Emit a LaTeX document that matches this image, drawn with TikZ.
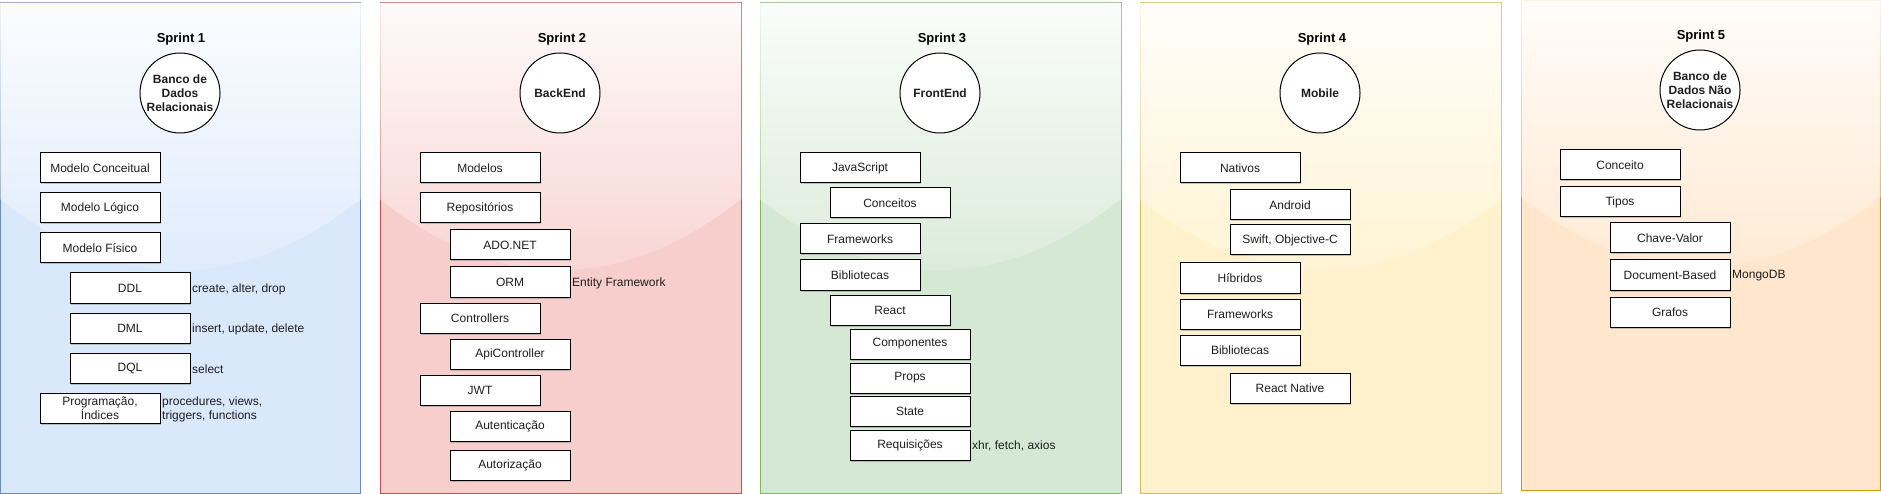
\documentclass[tikz,border=0pt]{standalone}
\usepackage{fontspec}
\setmainfont{Liberation Sans}
\usetikzlibrary{fadings,shadows}
\definecolor{fA}{HTML}{DAE8FC}\definecolor{sA}{HTML}{6C8EBF}
\definecolor{fB}{HTML}{F8CECC}\definecolor{sB}{HTML}{B85450}
\definecolor{fC}{HTML}{D5E8D4}\definecolor{sC}{HTML}{82B366}
\definecolor{fD}{HTML}{FFF2CC}\definecolor{sD}{HTML}{D6B656}
\definecolor{fE}{HTML}{FFE6CC}\definecolor{sE}{HTML}{D79B00}
\definecolor{txt}{HTML}{1E1E1E}
\tikzfading[name=glassfade, top color=transparent!10, bottom color=transparent!90]
\newcommand\drawpanel[6]{%
  \fill[#5] (#1,#2) rectangle (#3,#4);
  \draw[#6, line width=1pt] (#1,#2) rectangle (#3,#4);
  \fill[white, path fading=glassfade, fit fading=true]
    (#1-0.5,#2-0.5) -- (#1-0.5,#2+196)
    .. controls ({#1+2/3*((#3-#1)/2)},{#2+196+94.7}) and ({#3-2/3*((#3-#1)/2)},{#2+196+94.7}) ..
    (#3+0.5,#2+196) -- (#3+0.5,#2-0.5) -- cycle;
}
\tikzset{
  bx/.style={draw=black, fill=white, line width=1pt, minimum width=120pt, minimum height=30pt,
    inner sep=0pt, text=txt, font=\fontsize{12}{14}\selectfont,
    drop shadow={shadow xshift=1pt, shadow yshift=-1.5pt, fill=gray, opacity=0.45}},
  ttl/.style={font=\bfseries\fontsize{13}{15}\selectfont, text=black, inner sep=0pt},
  circ/.style={circle, draw=black, fill=white, line width=1pt, minimum size=80pt, inner sep=0pt,
    align=center, font=\bfseries\fontsize{12}{14}\selectfont, text=txt},
  lbl/.style={anchor=west, inner sep=0pt, align=left, text=txt, font=\fontsize{12}{14}\selectfont}
}
\begin{document}
\begin{tikzpicture}[x=1pt,y=-1pt]
\useasboundingbox (0,0) rectangle (1881,494);
\fill[white] (0,0) rectangle (1881,494);
% panels
\drawpanel{0.5}{3}{360.5}{493}{fA}{sA}
\drawpanel{380}{3}{741}{493}{fB}{sB}
\drawpanel{760}{3}{1121}{493}{fC}{sC}
\drawpanel{1140}{3}{1501}{493}{fD}{sD}
\drawpanel{1521}{0.5}{1880.5}{490.5}{fE}{sE}

% ---------- Sprint 1
\node[ttl] (t1) at (181,39) {Sprint 1};
\node[circ] (c1) at (180,93) {Banco de\\Dados\\Relacionais};
\node[bx] (a1) at (100,168) {Modelo Conceitual};
\node[bx] (a2) at (100,208) {Modelo Lógico};
\node[bx] (a3) at (100,248) {Modelo Físico};
\node[bx] (a4) at (130,288) {DDL};
\node[bx] (a5) at (130,328) {DML};
\node[bx] (a6) at (130,368) {DQL};
\node[bx, align=center] (a7) at (100,408) {Programação,\\Índices};
\node[lbl] (l1) at (192,289) {create, alter, drop};
\node[lbl] (l2) at (192,329) {insert, update, delete};
\node[lbl] (l3) at (192,369) {select};
\node[lbl] (l4) at (162,409) {procedures, views,\\triggers, functions};

% ---------- Sprint 2
\node[ttl] (t2) at (562,39) {Sprint 2};
\node[circ] (c2) at (560,93) {BackEnd};
\node[bx] (b1) at (480,168) {Modelos};
\node[bx] (b2) at (480,208) {Repositórios};
\node[bx] (b3) at (510,245) {ADO.NET};
\node[bx] (b4) at (510,282) {ORM};
\node[bx] (b5) at (480,318) {Controllers};
\node[bx] (b6) at (510,354) {ApiController};
\node[bx] (b7) at (480,390) {JWT};
\node[bx] (b8) at (510,426) {Autenticação};
\node[bx] (b9) at (510,465) {Autorização};
\node[lbl] (l5) at (572,283) {Entity Framework};

% ---------- Sprint 3
\node[ttl] (t3) at (942,39) {Sprint 3};
\node[circ] (c3) at (940,93) {FrontEnd};
\node[bx] (d1) at (860,168) {JavaScript};
\node[bx] (d2) at (890,203) {Conceitos};
\node[bx] (d3) at (860,239) {Frameworks};
\node[bx] (d4) at (860,275) {Bibliotecas};
\node[bx] (d5) at (890,310) {React};
\node[bx] (d6) at (910,344) {Componentes};
\node[bx] (d7) at (910,378) {Props};
\node[bx] (d8) at (910,411) {State};
\node[bx] (d9) at (910,445) {Requisições};
\node[lbl] (l6) at (972,446) {xhr, fetch, axios};

% ---------- Sprint 4
\node[ttl] (t4) at (1322,39) {Sprint 4};
\node[circ] (c4) at (1320,93) {Mobile};
\node[bx] (e1) at (1240,168) {Nativos};
\node[bx] (e2) at (1290,205) {Android};
\node[bx] (e3) at (1290,240) {Swift, Objective-C};
\node[bx] (e4) at (1240,278) {Híbridos};
\node[bx] (e5) at (1240,314) {Frameworks};
\node[bx] (e6) at (1240,350) {Bibliotecas};
\node[bx] (e7) at (1290,388) {React Native};

% ---------- Sprint 5
\node[ttl] (t5) at (1701,36) {Sprint 5};
\node[circ] (c5) at (1700,90) {Banco de\\Dados Não\\Relacionais};
\node[bx] (g1) at (1620,165) {Conceito};
\node[bx] (g2) at (1620,202) {Tipos};
\node[bx] (g3) at (1670,238) {Chave-Valor};
\node[bx] (g4) at (1670,275) {Document-Based};
\node[bx] (g5) at (1670,312) {Grafos};
\node[lbl] (l7) at (1732,276) {MongoDB};
\end{tikzpicture}
\end{document}
